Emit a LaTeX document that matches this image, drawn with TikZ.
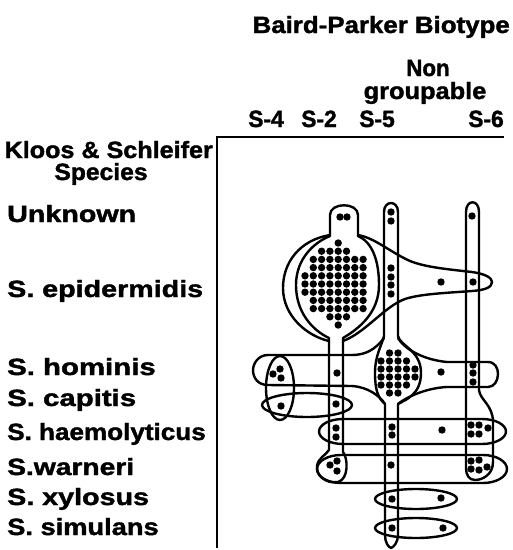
\documentclass[tikz,border=0pt]{standalone}
\usepackage{graphicx}
\usepackage{fontspec}
\setmainfont{Liberation Sans}[BoldFeatures={FakeBold=1.5}]
\newcommand\sx[2]{\scalebox{#1}[1]{#2}}
\newcommand\bpdot[2]{\fill (#1,#2) circle[radius=3.7pt];}
\newcommand\stadium[5]{\draw[outl] ({#1+#5},{#3-#4}) -- ({#2-#5},{#3-#4}) .. controls ({#2-0.448*#5},{#3-#4}) and (#2,{#3-0.552*#4}) .. (#2,#3) .. controls (#2,{#3+0.552*#4}) and ({#2-0.448*#5},{#3+#4}) .. ({#2-#5},{#3+#4}) -- ({#1+#5},{#3+#4}) .. controls ({#1+0.448*#5},{#3+#4}) and (#1,{#3+0.552*#4}) .. (#1,#3) .. controls (#1,{#3-0.552*#4}) and ({#1+0.448*#5},{#3-#4}) .. cycle;}
\begin{document}
\begin{tikzpicture}[x=1pt,y=-1pt,
  lbl/.style={font=\fontsize{23.5}{28}\selectfont\bfseries, inner sep=0pt},
  outl/.style={line width=2.4pt, line join=round, line cap=round},
  axisline/.style={line width=2.2pt}]
\fill[white] (0,0) rectangle (513,550);
\useasboundingbox (0,0) rectangle (513,550);

% texts
\node[lbl, anchor=base east] (title) at (510,33) {\sx{1.10}{Baird-Parker Biotype}};
\node[lbl, anchor=base] (non) at (428,76) {\sx{0.95}{Non}};
\node[lbl, anchor=base] (grp) at (425,99) {\sx{1.08}{groupable}};
\node[lbl, anchor=base] (s4) at (266,127) {\sx{0.97}{S-4}};
\node[lbl, anchor=base] (s2) at (319,127) {\sx{0.97}{S-2}};
\node[lbl, anchor=base] (s5) at (377,127) {\sx{0.97}{S-5}};
\node[lbl, anchor=base] (s6) at (486,127) {\sx{0.97}{S-6}};
\node[lbl, anchor=base east] (kloos) at (213,158) {\sx{1.07}{Kloos \& Schleifer}};
\node[lbl, anchor=base] (species) at (101,180) {\sx{1.05}{Species}};
\node[lbl, anchor=base west] (unk) at (7,222) {\sx{1.22}{Unknown}};
\node[lbl, anchor=base west] (epi) at (7,297) {\sx{1.22}{S. epidermidis}};
\node[lbl, anchor=base west] (hom) at (7,375) {\sx{1.25}{S. hominis}};
\node[lbl, anchor=base west] (cap) at (7,406) {\sx{1.25}{S. capitis}};
\node[lbl, anchor=base west] (hae) at (7,440) {\sx{1.11}{S. haemolyticus}};
\node[lbl, anchor=base west] (war) at (7,475) {\sx{1.2}{S.warneri}};
\node[lbl, anchor=base west] (xyl) at (7,505) {\sx{1.22}{S. xylosus}};
\node[lbl, anchor=base west] (sim) at (7,535) {\sx{1.16}{S. simulans}};

% axes
\coordinate (ax0) at (217,548);
\coordinate (ax1) at (217,137);
\coordinate (ax2) at (504,137);
\draw[axisline] (ax0) -- (ax1) -- (ax2);

% S-2 column: lobe, inner circle, stem, bulb
\draw[outl] (330,236) -- (330,215) .. controls (330,202) and (358,202) .. (358,215) -- (358,236)
  .. controls (372,242) and (379,260) .. (379,285)
  .. controls (379,312) and (360,328) .. (343,338)
  -- (343,452) .. controls (348,458) and (349,479) .. (338,482)
  .. controls (325,484) and (316,475) .. (317,466)
  .. controls (318,458) and (326,455) .. (329,450)
  -- (329,338) .. controls (312,330) and (296,312) .. (296,285)
  .. controls (296,258) and (315,242) .. (330,236) -- cycle;
% epidermidis outer ring and tail
\draw[outl] (330,235) .. controls (300,240) and (283,262) .. (283,288)
  .. controls (283,316) and (307,336) .. (329,341);
\draw[outl] (358,235) .. controls (375,238) and (390,252) .. (410,261)
  .. controls (425,267) and (445,269) .. (472,272)
  .. controls (486,274) and (492,278) .. (492,282)
  .. controls (492,287) and (486,290) .. (472,291)
  .. controls (445,293) and (420,294) .. (405,299)
  .. controls (385,306) and (365,333) .. (343,341);

% S-5 column
\draw[outl] (384,336) -- (384,212) .. controls (384,200) and (398,200) .. (398,212) -- (398,336)
  .. controls (400,346) and (421,350) .. (421,373)
  .. controls (421,395) and (405,400) .. (398,404)
  -- (398,535) .. controls (398,542) and (394,547) .. (391,548)
  .. controls (388,547) and (385,542) .. (385,535)
  -- (385,404) .. controls (378,398) and (375,390) .. (375,373)
  .. controls (375,355) and (382,345) .. (384,336) -- cycle;
% hominis shape
\draw[outl] (384,338) .. controls (375,350) and (365,355) .. (352,355) -- (268,355)
  .. controls (258,355) and (253,364) .. (253,370)
  .. controls (253,378) and (258,385) .. (268,385) -- (352,386)
  .. controls (368,387) and (380,396) .. (385,404);
\draw[outl] (398,338) .. controls (405,350) and (425,360) .. (447,362) -- (488,362)
  .. controls (495,362) and (498,368) .. (498,374)
  .. controls (498,381) and (494,387) .. (488,387) -- (447,387)
  .. controls (425,388) and (405,398) .. (398,404);

% S-6 column
\draw[outl] (466,212) .. controls (466,199) and (479,199) .. (479,212) -- (479,390)
  .. controls (480,400) and (493,405) .. (493,422) -- (493,462)
  .. controls (493,475) and (482,480) .. (475,480)
  .. controls (469,480) and (466,475) .. (466,468) -- cycle;

% S-4, capitis, rows
\draw[outl] (280,388) ellipse[x radius=14, y radius=32];
\draw[outl] (307,405) ellipse[x radius=45, y radius=12];
\stadium{319}{506}{431.5}{12.5}{24}
\stadium{317}{507}{469}{14}{24}
\draw[outl] (416,499) ellipse[x radius=41, y radius=10];
\draw[outl] (416,528) ellipse[x radius=41, y radius=10];

% dots: unknown
\bpdot{340}{217}\bpdot{347}{217}
\bpdot{391}{212}\bpdot{391}{221}
\bpdot{472}{216}
% epidermidis
\foreach \j/\a/\b in {0/4/4,1/2/5,2/1/7,3/1/7,4/0/7,5/0/7,6/0/7,7/1/7,8/1/7,9/3/5,10/4/4}{
  \foreach \i in {\a,...,\b}{\fill ({305+8.3*\i},{243+8.2*\j}) circle[radius=3.7pt];}}
\bpdot{391}{268}\bpdot{391}{277}\bpdot{391}{285}\bpdot{391}{294}
\bpdot{441}{282}\bpdot{473}{282}
% hominis
\bpdot{280}{369}\bpdot{273}{374}\bpdot{281}{378}
\bpdot{337}{373}
\foreach \j/\a/\b in {0/1/2,1/0/3,2/0/4,3/0/4,4/0/3,5/1/2}{
  \foreach \i in {\a,...,\b}{\fill ({381+8.5*\i},{353+8*\j}) circle[radius=3.7pt];}}
\bpdot{441}{372}
\bpdot{473}{365}\bpdot{473}{373}\bpdot{473}{382}
% capitis
\bpdot{281}{406}\bpdot{336}{404}
% haemolyticus
\bpdot{336}{428}\bpdot{336}{437}
\bpdot{392}{427}\bpdot{392}{435}
\bpdot{442}{430}
\bpdot{471}{425}\bpdot{479}{425}\bpdot{488}{428}\bpdot{471}{434}\bpdot{479}{434}
% warneri
\bpdot{330}{465}\bpdot{337}{461}\bpdot{337}{471}
\bpdot{391}{465}
\bpdot{471}{461}\bpdot{479}{460}\bpdot{487}{467}\bpdot{471}{469}\bpdot{479}{470}
% xylosus, simulans
\bpdot{392}{499}\bpdot{441}{498}
\bpdot{392}{528}\bpdot{443}{528}
\end{tikzpicture}
\end{document}
